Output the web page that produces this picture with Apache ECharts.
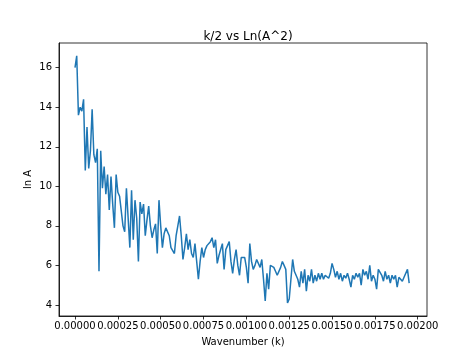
<!DOCTYPE html>
<html>
<head>
<meta charset="utf-8">
<script src="https://cdn.jsdelivr.net/npm/echarts@6/dist/echarts.min.js"></script>
<style>html,body{margin:0;padding:0;background:#fff}#c{width:474px;height:355px}</style>
</head>
<body>
<div id="c"></div>
<script>
// Wavenumber samples (k)
var wavenumber = [
0.00000,0.00001,0.00002,0.00003,0.00004,0.00005,0.00006,0.00007,0.00008,0.00009,
0.00010,0.00011,0.00012,0.00013,0.00014,0.00015,0.00016,0.00017,0.00018,0.00019,
0.00020,0.00021,0.00022,0.00023,0.00024,0.00025,0.00026,0.00027,0.00028,0.00029,
0.00030,0.00031,0.00032,0.00033,0.00034,0.00035,0.00036,0.00037,0.00038,0.00039,
0.00040,0.00041,0.00042,0.00043,0.00044,0.00045,0.00046,0.00047,0.00048,0.00049,
0.00050,0.00051,0.00052,0.00053,0.00054,0.00055,0.00056,0.00057,0.00058,0.00059,
0.00060,0.00061,0.00062,0.00063,0.00064,0.00065,0.00066,0.00067,0.00068,0.00069,
0.00070,0.00071,0.00072,0.00073,0.00074,0.00075,0.00076,0.00077,0.00078,0.00079,
0.00080,0.00081,0.00082,0.00083,0.00084,0.00085,0.00086,0.00087,0.00088,0.00089,
0.00090,0.00091,0.00092,0.00093,0.00094,0.00095,0.00096,0.00097,0.00098,0.00099,
0.00100,0.00101,0.00102,0.00103,0.00104,0.00105,0.00106,0.00107,0.00108,0.00109,
0.00110,0.00111,0.00112,0.00113,0.00114,0.00115,0.00116,0.00117,0.00118,0.00119,
0.00120,0.00121,0.00122,0.00123,0.00124,0.00125,0.00126,0.00127,0.00128,0.00129,
0.00130,0.00131,0.00132,0.00133,0.00134,0.00135,0.00136,0.00137,0.00138,0.00139,
0.00140,0.00141,0.00142,0.00143,0.00144,0.00145,0.00146,0.00147,0.00148,0.00149,
0.00150,0.00151,0.00152,0.00153,0.00154,0.00155,0.00156,0.00157,0.00158,0.00159,
0.00160,0.00161,0.00162,0.00163,0.00164,0.00165,0.00166,0.00167,0.00168,0.00169,
0.00170,0.00171,0.00172,0.00173,0.00174,0.00175,0.00176,0.00177,0.00178,0.00179,
0.00180,0.00181,0.00182,0.00183,0.00184,0.00185,0.00186,0.00187,0.00188,0.00189,
0.00190,0.00191,0.00192,0.00193,0.00194,0.00195
];
// ln A values
var lnA = [
16.0,16.6,13.6,14.0,13.8,14.4,10.8,13.0,10.9,11.8,
13.9,11.6,11.2,11.9,5.7,11.8,9.9,11.0,9.6,10.6,
8.8,10.5,9.1,7.9,10.6,9.7,9.5,9.4,8.0,7.7,
9.9,10.0,6.9,9.8,7.3,9.3,8.4,6.2,9.2,8.6,
9.1,7.5,8.3,9.0,8.0,7.4,7.8,8.1,6.6,9.3,
8.0,6.9,7.6,7.9,7.8,7.5,6.9,6.8,6.6,7.5,
8.0,8.5,7.5,6.3,6.9,7.6,6.8,7.3,6.6,6.4,
7.1,6.2,5.3,6.2,6.9,6.4,6.8,7.0,6.9,7.2,
7.4,6.9,7.3,6.1,6.5,6.8,7.1,5.8,6.8,7.0,
7.2,6.2,5.6,6.3,6.8,6.0,5.5,6.4,6.3,6.4,
5.9,5.1,7.1,6.2,5.8,6.0,6.3,6.4,5.9,6.3,
5.3,4.2,5.6,4.8,6.0,5.9,5.9,5.7,5.5,5.4,
5.9,6.2,6.0,5.8,4.1,4.3,5.3,6.3,5.7,5.8,
5.3,4.9,5.7,5.1,5.8,4.7,5.5,5.2,5.8,5.1,
5.5,5.2,5.6,5.3,5.6,5.3,5.5,5.6,5.35,5.6,
6.1,5.8,5.4,5.7,5.3,5.6,5.2,5.5,5.35,5.6,
5.3,4.9,5.5,5.3,5.6,5.4,5.6,5.0,5.8,5.5,
5.7,5.3,6.0,5.2,5.5,5.3,4.8,5.8,5.7,5.5,
5.2,5.7,5.3,5.5,5.1,5.5,5.3,5.5,4.9,5.4,
5.5,5.2,5.4,5.3,5.8,5.1
];
var xTicks = [0, 0.00025, 0.0005, 0.00075, 0.001, 0.00125, 0.0015, 0.00175, 0.002];
var yTicks = [4, 6, 8, 10, 12, 14, 16];

var pts = wavenumber.map(function (k, i) { return [k, lnA[i]]; });
var font = 'DejaVu Sans';
var chart = echarts.init(document.getElementById('c'));
chart.setOption({
  animation: false,
  title: {
    text: 'k/2 vs Ln(A^2)',
    left: 243, top: 26, textAlign: 'center',
    textStyle: { fontFamily: font, fontSize: 12, fontWeight: 'normal', color: '#000' }
  },
  grid: { left: 59, right: 47, top: 43, bottom: 39, show: true, borderColor: '#000', borderWidth: 0.8, backgroundColor: 'transparent' },
  xAxis: {
    type: 'value', min: -0.0000934, max: 0.002054,
    name: 'Wavenumber (k)', nameLocation: 'middle', nameGap: 21,
    nameMoveOverlap: false,
    nameTextStyle: { fontFamily: font, fontSize: 10, color: '#000' },
    splitLine: { show: false },
    axisLine: { show: true, onZero: false, lineStyle: { color: '#000', width: 0.8 } },
    axisTick: { show: true, customValues: xTicks, length: 3.5, lineStyle: { color: '#000', width: 0.8 } },
    axisLabel: { customValues: xTicks, margin: 5, fontFamily: font, fontSize: 10, color: '#000',
      formatter: function (v) { return v.toFixed(5); } }
  },
  yAxis: {
    type: 'value', min: 3.44, max: 17.25,
    name: 'ln A', nameLocation: 'middle', nameGap: 26, nameRotate: 90,
    nameMoveOverlap: false,
    nameTextStyle: { fontFamily: font, fontSize: 10, color: '#000' },
    splitLine: { show: false },
    axisLine: { show: true, onZero: false, lineStyle: { color: '#000', width: 0.8 } },
    axisTick: { show: true, customValues: yTicks, length: 3.5, lineStyle: { color: '#000', width: 0.8 } },
    axisLabel: { customValues: yTicks, margin: 7, fontFamily: font, fontSize: 10, color: '#000' }
  },
  series: [{
    type: 'line', data: pts, showSymbol: false, symbol: 'none',
    lineStyle: { color: '#1f77b4', width: 1.5 }, itemStyle: { color: '#1f77b4' }
  }]
});
</script>
</body>
</html>
